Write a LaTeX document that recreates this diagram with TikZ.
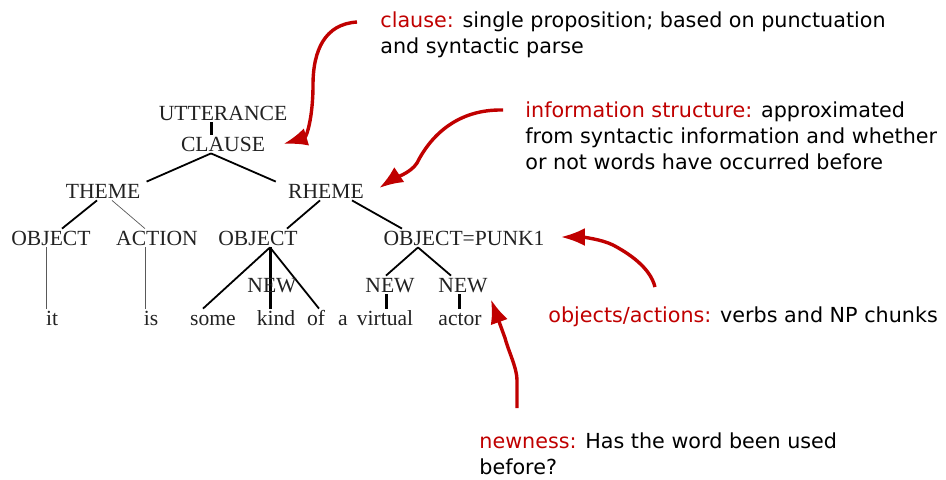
\documentclass[tikz,border=0pt]{standalone}
\usepackage{fontspec}
\setmainfont{Liberation Serif}
\newfontfamily\notefont{DejaVu Sans}
\usetikzlibrary{arrows.meta,positioning,calc}
\definecolor{notered}{HTML}{C00000}
\definecolor{treegray}{HTML}{222222}

\begin{document}
\begin{tikzpicture}[x=0.5pt,y=-0.5pt,
  tnode/.style={inner sep=1pt,text height=7pt,text depth=0pt,text=treegray,font=\fontsize{10.8}{12}\selectfont},
  branch/.style={line width=0.9pt,black},
  twig/.style={line width=0.35pt,black!65},
  stem/.style={line width=1.5pt,black},
  note/.style={anchor=north west,inner sep=0pt,align=left,font=\notefont\fontsize{10.35}{13}\selectfont},
  pointer/.style={notered,line width=1.7pt,-{Latex[length=12pt,width=9pt]}}]
  \useasboundingbox (0,0) rectangle (946,479);

  % parse tree
  \node[tnode] (utt) at (223,113) {UTTERANCE};
  \node[tnode] (clause) at (223,144) {CLAUSE};
  \node[tnode] (theme) at (103,191) {THEME};
  \node[tnode] (rheme) at (326,191) {RHEME};
  \node[tnode] (obja) at (51,238) {OBJECT};
  \node[tnode] (action) at (157,238) {ACTION};
  \node[tnode] (objb) at (258,238) {OBJECT};
  \node[tnode] (objc) at (464,238) {OBJECT=PUNK1};
  \node[tnode] (newb) at (390,285) {NEW};
  \node[tnode] (newc) at (463,285) {NEW};
  \node[tnode] (it) at (52,318) {it};
  \node[tnode] (is) at (151,318) {is};
  \node[tnode] (some) at (213,318) {some};
  \node[tnode] (kind) at (276,318) {kind};
  \node[tnode] (of) at (316,318) {of};
  \node[tnode] (a) at (343,318) {a};
  \node[tnode] (virtual) at (385,318) {virtual};
  \node[tnode] (actor) at (460,318) {actor};

  \draw[stem] ([xshift=-6pt]utt.south) -- ([xshift=-6pt]clause.north);
  \draw[branch] ([xshift=-6pt]clause.south) -- ([xshift=2pt]theme.north east);
  \draw[branch] ([xshift=-6pt]clause.south) -- ([xshift=-5pt]rheme.north west);
  \draw[branch] ([xshift=-3pt]theme.south) -- ([xshift=5.5pt]obja.north);
  \draw[twig] ([xshift=4.5pt]theme.south) -- ([xshift=-6pt]action.north);
  \draw[twig] ([xshift=-2.5pt]obja.south) -- ([xshift=-3pt]it.north);
  \draw[twig] ([xshift=-6pt]action.south) -- ([xshift=-3pt]is.north);
  \draw[branch] ([xshift=-3pt]rheme.south) -- ([xshift=14.5pt]objb.north);
  \draw[branch] ([xshift=13pt]rheme.south) -- ([xshift=-31pt]objc.north);
  \draw[branch] ([xshift=6pt]objb.south) -- ([xshift=-5pt]some.north);
  \draw[stem] ([xshift=6pt]objb.south) -- ([xshift=-3pt]kind.north);
  \draw[branch] ([xshift=6pt]objb.south) -- ([xshift=1.5pt]of.north);
  \draw[branch] ([xshift=-23pt]objc.south) -- ([xshift=-2pt]newb.north);
  \draw[branch] ([xshift=-23pt]objc.south) -- ([xshift=-6pt]newc.north);
  \draw[stem] ([xshift=-2pt]newb.south) -- ([xshift=0.5pt]virtual.north);
  \draw[stem] ([xshift=-2pt]newc.south) -- ([xshift=-0.5pt]actor.north);
  % NEW sits on the kind branch
  \node[tnode] (newa) at (272,285) {NEW};

  % annotations
  \node[note] (noteclause) at (380,11) {\textcolor{notered}{clause:} single proposition; based on punctuation\\and syntactic parse};
  \node[note] (noteinfo) at (525,101) {\textcolor{notered}{information structure:} approximated\\from syntactic information and whether\\or not words have occurred before};
  \node[note] (noteobj) at (548,306) {\textcolor{notered}{objects/actions:} verbs and NP chunks};
  \node[note] (notenew) at (479,432) {\textcolor{notered}{newness:} Has the word been used\\before?};

  \draw[pointer] ([shift={(-23,11)}]noteclause.north west) .. controls +(-32,2) and +(0,-35) .. (313,85)
    .. controls +(0,33) and +(23,-7) .. ([xshift=8pt]clause.east);
  \draw[pointer] ([shift={(-22,9)}]noteinfo.north west) .. controls +(-45,-1) and +(14,-28) .. (417,163)
    .. controls +(-6,10) and +(12,-8) .. ([shift={(13,-3)}]rheme.east);
  \draw[pointer] ([shift={(107,-19)}]noteobj.north west) .. controls +(-5,-20) and +(15,8) .. (613,245)
    .. controls +(-12,-6) and +(20,0) .. ([shift={(14,-1)}]objc.east);
  \draw[pointer] ([shift={(38,-24)}]notenew.north west) -- (517,380)
    .. controls +(0,-12) and +(3,12) .. (505,338) -- ([shift={(1,5)}]newc.south east);
\end{tikzpicture}
\end{document}
